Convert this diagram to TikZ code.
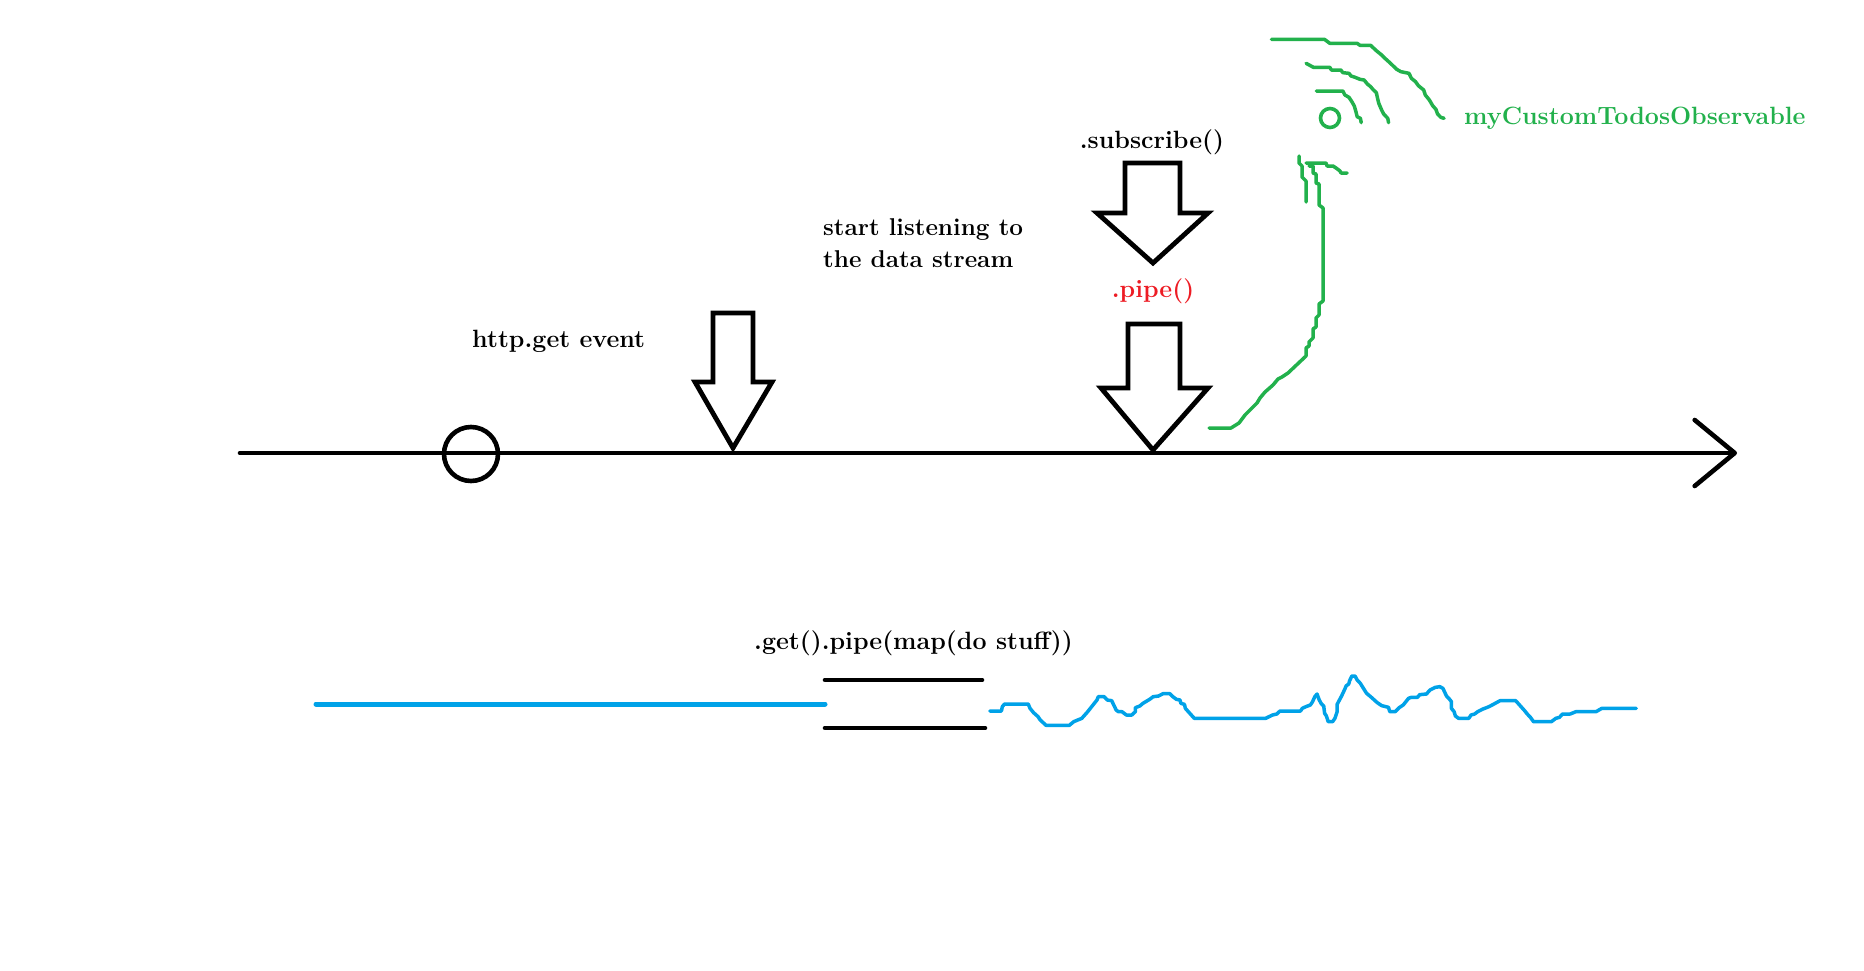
\documentclass[tikz,border=0pt]{standalone}
\usepackage{tikz}
\usetikzlibrary{arrows.meta}
\usetikzlibrary{positioning}
\usepackage{xcolor}
\definecolor{paintgreen}{RGB}{34,177,76}
\definecolor{paintblue}{RGB}{0,162,232}
\definecolor{paintred}{RGB}{237,28,36}

\begin{document}
\begin{tikzpicture}[x=1pt,y=-1pt,
    lbl/.style={font=\bfseries\fontsize{25}{30}\selectfont, inner sep=0pt},
    stroke/.style={line width=4.6pt, line join=round, line cap=round},
    blockarrow/.style={line width=4.8pt, line join=miter},
    greenline/.style={paintgreen, line width=3.5pt, line join=round, line cap=round},
    waveline/.style={paintblue, line width=3.5pt, line join=round, line cap=round}]
    \useasboundingbox (0,0) rectangle (1864,970);
    % time line
    \coordinate (tstart) at (240,453);
    \coordinate (tend) at (1737,453);
    \draw[stroke, -{Straight Barb[length=40pt,width=66pt,round]}] (tstart) -- (tend);
    \node[circle, draw, line width=4.6pt, minimum size=54pt, inner sep=0pt] (httpev) at (471,454) {};
    % block arrows
    \draw[blockarrow] (713,313) -- (753,313) -- (753,382) -- (772,382) -- (733,448) -- (695,382) -- (713,382) -- cycle;
    \draw[blockarrow] (1125,163) -- (1180,163) -- (1180,213) -- (1208,213) -- (1153,263) -- (1097,213) -- (1125,213) -- cycle;
    \draw[blockarrow] (1128,324) -- (1180,324) -- (1180,388) -- (1208,388) -- (1153,450) -- (1101,388) -- (1128,388) -- cycle;
    % labels
    \node[lbl, anchor=base west] (httpget) at (472,347) {http.get event};
    \node[lbl, anchor=base west, font=\bfseries\fontsize{24.3}{30}\selectfont] (listen) at (823,235) {start listening to};
    \node[lbl, anchor=base west, font=\bfseries\fontsize{24.3}{30}\selectfont] (stream) at (823,267) {the data stream};
    \node[lbl, anchor=base] (subscribe) at (1152,148) {.subscribe()};
    \node[lbl, anchor=base, text=paintred] (pipe) at (1153,297) {.pipe()};
    \node[lbl, anchor=base west, text=paintgreen] (observable) at (1464,124) {myCustomTodosObservable};
    \node[lbl, anchor=base west] (getpipe) at (754,649) {.get().pipe(map(do stuff))};
    % signal
    \node[circle, draw=paintgreen, line width=3.6pt, minimum size=19pt, inner sep=0pt] (src) at (1330,118) {};
    \begin{scope}[shift={(1200,20)}, xscale=0.40816, yscale=1/3]
      \draw[greenline] (175,58) -- (305,58) -- (318,70) -- (385,70) -- (392,76) -- (418,76) -- (432,92) -- (445,105) -- (455,117) -- (465,128) -- (482,148) -- (492,155) -- (512,160) -- (518,175) -- (528,185) -- (535,197) -- (548,210) -- (552,225) -- (562,240) -- (570,257) -- (578,268) -- (582,282) -- (590,292) -- (598,295);
      \draw[greenline] (260,130) -- (278,142) -- (318,142) -- (322,150) -- (345,150) -- (350,158) -- (365,160) -- (370,168) -- (380,172) -- (392,178) -- (402,180) -- (410,192) -- (418,200) -- (425,210) -- (432,218) -- (435,235) -- (438,250) -- (445,270) -- (450,282) -- (460,295) -- (462,308);
      \draw[greenline] (285,213) -- (350,213) -- (355,225) -- (365,232) -- (372,245) -- (378,258) -- (382,275) -- (385,290) -- (393,295) -- (395,308);
    \end{scope}
    \draw[greenline] (1299,156) -- (1299,163) -- (1302,166) -- (1302,177) -- (1306,181) -- (1306,202);
    \draw[greenline] (1306,163) -- (1326,163) -- (1327,166) -- (1333,166) -- (1336,168) -- (1340,171) -- (1341,173) -- (1347,173);
    \draw[greenline] (1309,166) -- (1313,166) -- (1313,173) -- (1316,174) -- (1316,183) -- (1319,184) -- (1319,205) -- (1323,208) -- (1323,301) -- (1319,304) -- (1319,315) -- (1316,318) -- (1316,327) -- (1313,329) -- (1313,338) -- (1309,342) -- (1309,346) -- (1306,348) -- (1306,356) -- (1288,373) -- (1282,377) -- (1278,379) -- (1273,385) -- (1265,392) -- (1260,398) -- (1257,403) -- (1245,415) -- (1239,423) -- (1231,428) -- (1209,428);
    % data stream
    \coordinate (bstart) at (316,704);
    \coordinate (bend) at (825,704);
    \draw[paintblue, line width=5pt, line cap=round] (bstart) -- (bend);
    \draw[stroke] (825,680) -- (982,680);
    \draw[stroke] (825,728) -- (985,728);
    \begin{scope}[shift={(980,660)}, xscale=0.4464, yscale=1/3]
      \draw[waveline] (22,153) -- (48,153) -- (50,140) -- (55,132) -- (108,132) -- (112,145) -- (120,158) -- (130,170) -- (135,180) -- (148,196) -- (200,196) -- (210,185) -- (228,175) -- (240,157) -- (262,120) -- (265,110) -- (278,110) -- (285,120) -- (295,122) -- (305,150) -- (310,155) -- (318,155) -- (328,165) -- (340,165) -- (348,155) -- (348,143) -- (358,138) -- (365,130) -- (380,118) -- (388,110) -- (400,108) -- (410,101) -- (425,101) -- (432,110) -- (440,118) -- (448,120) -- (450,130) -- (458,133) -- (460,145) -- (470,160) -- (480,175) -- (640,175) -- (655,165) -- (665,162) -- (672,153) -- (718,153) -- (722,145) -- (730,140) -- (740,135) -- (745,125) -- (750,110) -- (755,102) -- (760,120) -- (765,132) -- (770,138) -- (772,160) -- (776,168) -- (780,185) -- (790,185) -- (795,175) -- (800,155) -- (800,133) -- (810,108) -- (818,85) -- (820,78) -- (826,72) -- (828,62) -- (833,48) -- (840,48) -- (845,60) -- (852,70) -- (858,83) -- (866,100) -- (875,110) -- (890,128) -- (900,137) -- (915,142) -- (918,155) -- (930,155) -- (940,142) -- (948,135) -- (960,115) -- (966,112) -- (980,112) -- (985,104) -- (1000,102) -- (1008,90) -- (1020,82) -- (1030,80) -- (1037,85) -- (1045,108) -- (1052,118) -- (1056,125) -- (1056,145) -- (1062,155) -- (1065,168) -- (1072,175) -- (1095,175) -- (1100,165) -- (1108,162) -- (1115,155) -- (1125,148) -- (1140,140) -- (1150,133) -- (1165,122) -- (1200,122) -- (1210,137) -- (1220,152) -- (1226,162) -- (1233,172) -- (1240,185) -- (1280,185) -- (1290,175) -- (1298,172) -- (1305,162) -- (1322,162) -- (1335,155) -- (1380,155) -- (1393,145) -- (1470,145);
    \end{scope}
\end{tikzpicture}
\end{document}
